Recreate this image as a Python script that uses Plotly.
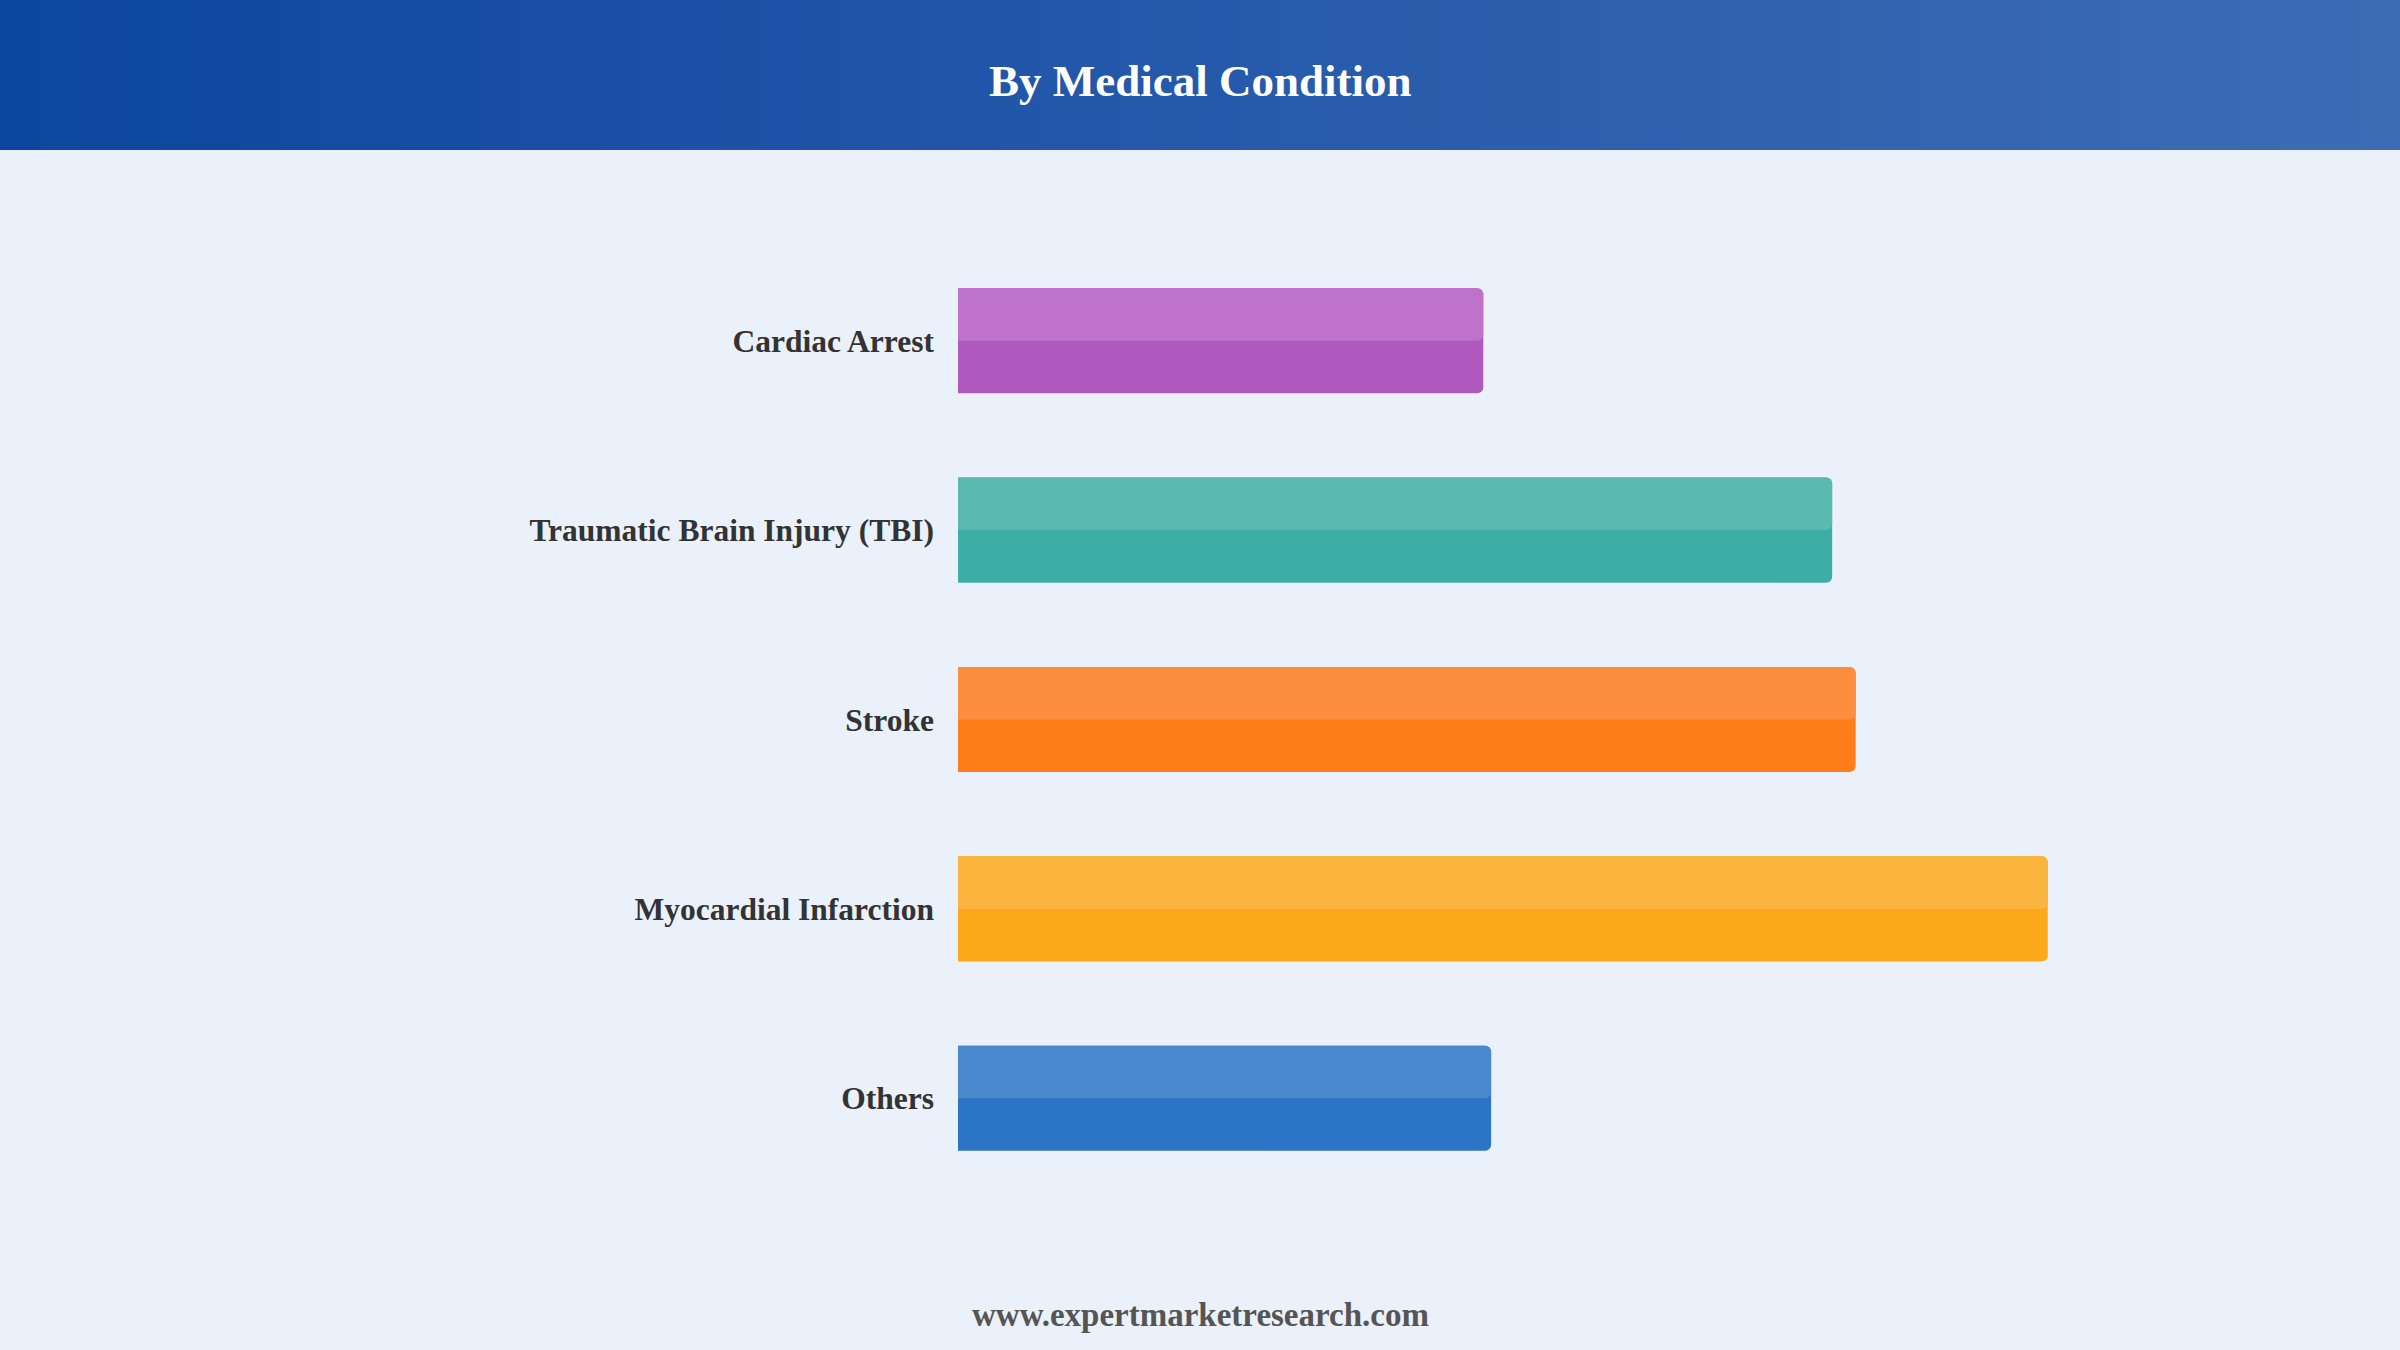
import plotly.graph_objects as go

categories = ["Cardiac Arrest", "Traumatic Brain Injury (TBI)", "Stroke", "Myocardial Infarction", "Others"]
values = [13.4, 22.3, 22.9, 27.8, 13.6]
dark_colors = ["#AF59BE", "#3CAEA6", "#FD7E1A", "#FBA91B", "#2B74C6"]
light_colors = ["#BF72C9", "#5AB9B1", "#FD8E40", "#FBB43E", "#4B89CF"]

title_text = "By Medical Condition"
footer_text = "www.expertmarketresearch.com"

W, H = 2400, 1350
ML, MR, MT, MB = 958, 266, 246, 157
PW, PH = W - ML - MR, H - MT - MB
BAR_W = 0.555
SERIF = "Liberation Serif, Times New Roman, serif"


def px_x(px):
    return (px - ML) / PW


def px_y(py_top):
    return (H - py_top - MB) / PH


fig = go.Figure()
fig.add_trace(go.Bar(
    y=categories, x=values, orientation="h", width=BAR_W,
    marker=dict(color=dark_colors, line=dict(width=0), cornerradius=6),
    hoverinfo="x+y", showlegend=False,
))
fig.add_trace(go.Bar(
    y=categories, x=values, orientation="h", width=BAR_W / 2, offset=0,
    marker=dict(color=light_colors, line=dict(width=0), cornerradius=6),
    hoverinfo="skip", showlegend=False,
))


def lerp(a, b, t):
    return int(round(a + (b - a) * t))


c0 = (13, 70, 160)
c1 = (61, 108, 181)
n = 60
shapes = []
for i in range(n):
    t = i / (n - 1)
    col = "rgb(%d,%d,%d)" % tuple(lerp(c0[k], c1[k], t) for k in range(3))
    shapes.append(dict(type="rect", xref="paper", yref="paper",
                       x0=px_x(W * i / n), x1=px_x(W * (i + 1) / n + 2),
                       y0=px_y(150), y1=px_y(0),
                       fillcolor=col, line=dict(width=0), layer="below"))

fig.update_layout(
    width=W, height=H,
    margin=dict(l=ML, r=MR, t=MT, b=MB, pad=0),
    paper_bgcolor="#EAF1FB", plot_bgcolor="#EAF1FB",
    barmode="overlay",
    shapes=shapes,
    xaxis=dict(range=[0, 30], visible=False, showgrid=False, zeroline=False, fixedrange=True),
    yaxis=dict(categoryorder="array", categoryarray=categories[::-1],
               showgrid=False, zeroline=False, showline=False, ticks="",
               ticklabelstandoff=23, fixedrange=True,
               tickfont=dict(family=SERIF, size=31.5, color="#333333", weight="bold")),
    annotations=[
        dict(text=title_text, xref="paper", yref="paper", x=px_x(1200), y=px_y(81),
             xanchor="center", yanchor="middle", showarrow=False,
             font=dict(family=SERIF, size=45, color="white", weight="bold")),
        dict(text=footer_text, xref="paper", yref="paper", x=px_x(1200), y=px_y(1315),
             xanchor="center", yanchor="middle", showarrow=False,
             font=dict(family=SERIF, size=33, color="#555555", weight="bold")),
    ],
)

fig.write_html("out.html")
